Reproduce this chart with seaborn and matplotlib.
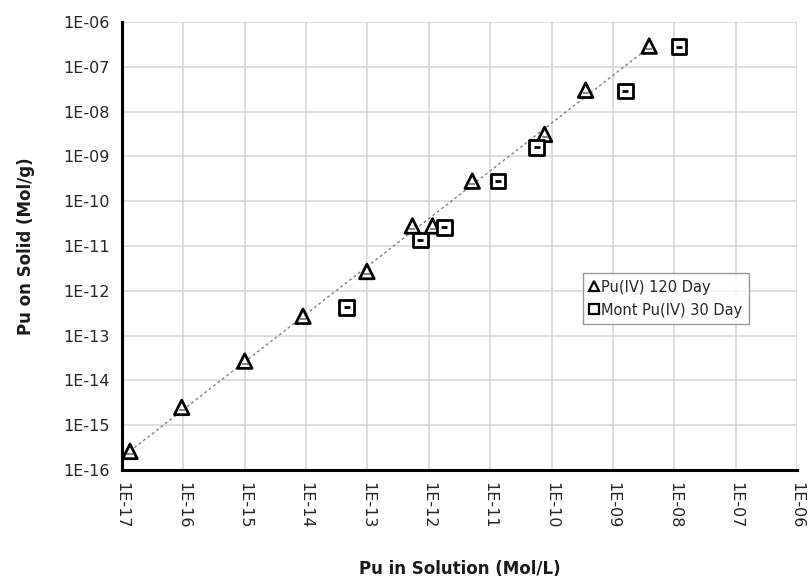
import numpy as np
import pandas as pd
import matplotlib
matplotlib.use("Agg")
import matplotlib.pyplot as plt
import seaborn as sns
from matplotlib.ticker import FuncFormatter, NullLocator
from matplotlib.lines import Line2D

# ---- data ----
series_120 = "Pu(IV) 120 Day"
series_30 = "Mont Pu(IV) 30 Day"

x_120 = [1.35e-17, 9.4e-17, 1.0e-15, 8.9e-15, 9.8e-14, 5.4e-13, 1.15e-12, 5.1e-12, 7.7e-11, 3.6e-10, 3.9e-09]
y_120 = [2.6e-16, 2.5e-15, 2.7e-14, 2.7e-13, 2.7e-12, 2.8e-11, 2.8e-11, 2.8e-10, 3.1e-09, 3.0e-08, 2.9e-07]

x_30 = [4.6e-14, 7.3e-13, 1.8e-12, 1.35e-11, 5.7e-11, 1.6e-09, 1.2e-08]
y_30 = [4.3e-13, 1.35e-11, 2.6e-11, 2.8e-10, 1.6e-09, 2.9e-08, 2.8e-07]

x_ticks_exp = list(range(-17, -5))
y_ticks_exp = list(range(-16, -5))

df = pd.DataFrame({
    "x": x_120 + x_30,
    "y": y_120 + y_30,
    "series": [series_120] * len(x_120) + [series_30] * len(x_30),
})

sns.set_style("white")
plt.rcParams["font.family"] = ["DejaVu Sans"]

fig = plt.figure(figsize=(8.09, 5.87), dpi=100)
ax = fig.add_axes([122 / 809, 1 - 470 / 587, (797 - 122) / 809, (470 - 22) / 587])

ax.set_xscale("log")
ax.set_yscale("log")
ax.set_xlim(10.0 ** x_ticks_exp[0], 10.0 ** x_ticks_exp[-1])
ax.set_ylim(10.0 ** y_ticks_exp[0], 10.0 ** y_ticks_exp[-1])

# grid
ax.set_xticks([10.0 ** e for e in x_ticks_exp])
ax.set_yticks([10.0 ** e for e in y_ticks_exp])
ax.xaxis.set_minor_locator(NullLocator())
ax.yaxis.set_minor_locator(NullLocator())
ax.grid(True, color="#d4d4d4", linewidth=1.1)
ax.set_axisbelow(True)

# trend line (power fit of 120-day series)
lx = np.log10(x_120)
ly = np.log10(y_120)
b, a = np.polyfit(lx, ly, 1)
xs = np.array([min(x_120), max(x_120)])
ax.plot(xs, 10 ** (a + b * np.log10(xs)), linestyle=(0, (2, 2)), color="#808080",
        linewidth=1.0, zorder=2)

sns.scatterplot(data=df, x="x", y="y", hue="series", style="series",
                markers={series_120: "^", series_30: "s"},
                palette={series_120: "white", series_30: "white"},
                s=110, edgecolor="black", linewidth=2.0, ax=ax, zorder=3,
                legend=False)
# small central dash
ax.scatter(x_30, y_30, marker="_", s=18, color="black", linewidths=2.0, zorder=4)
ax.scatter(x_120, [v * 0.87 for v in y_120], marker="_", s=14, color="#888888",
           linewidths=1.5, zorder=4)

fmt = FuncFormatter(lambda v, p: "1E%+03d" % int(round(np.log10(v))))
ax.xaxis.set_major_formatter(fmt)
ax.yaxis.set_major_formatter(fmt)

for s in ["top", "right"]:
    ax.spines[s].set_visible(False)
for s in ["left", "bottom"]:
    ax.spines[s].set_color("black")
    ax.spines[s].set_linewidth(2.2)

ax.tick_params(axis="both", which="major", direction="out", length=5, width=2,
               color="black", labelsize=11.5, labelcolor="#262626", pad=4)
ax.tick_params(axis="x", labelrotation=-90)
for lab in ax.get_xticklabels():
    lab.set_va("top")
    lab.set_ha("center")

ax.set_xlabel("Pu in Solution (Mol/L)", fontsize=12, fontweight="bold", labelpad=22,
              color="#1a1a1a")
ax.set_ylabel("Pu on Solid (Mol/g)", fontsize=12, fontweight="bold", labelpad=20,
              color="#1a1a1a")

# legend
handles = [
    Line2D([], [], marker="^", linestyle="none", markerfacecolor="white",
           markeredgecolor="black", markeredgewidth=1.6, markersize=7),
    Line2D([], [], marker="s", linestyle="none", markerfacecolor="white",
           markeredgecolor="black", markeredgewidth=1.6, markersize=7),
]
leg = ax.legend(handles, [series_120, series_30], loc="upper left",
                bbox_to_anchor=((583 - 122) / 675, (470 - 273) / 448),
                fontsize=10.5, frameon=True, fancybox=False, handlelength=0.6,
                handletextpad=0.2, borderpad=0.45, labelspacing=0.55,
                borderaxespad=0)
leg.get_frame().set_edgecolor("#808080")
leg.get_frame().set_linewidth(1.0)

fig.savefig("out.png", dpi=100)
